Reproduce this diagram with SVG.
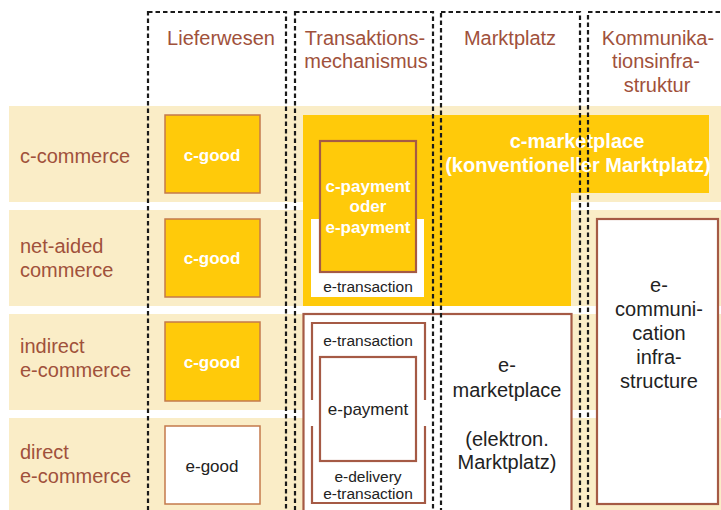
<svg xmlns="http://www.w3.org/2000/svg" width="721" height="510" viewBox="0 0 721 510">
<style>
text{font-family:"Liberation Sans",Arial,sans-serif}
.band{fill:#FAEDC7}
.hdr{fill:#A0513B;font-size:20px;text-anchor:middle}
.row{fill:#A0513B;font-size:20px}
.yel{fill:#FFCA0A}
.good{stroke:#C47A4C;stroke-width:1.5}
.wb{fill:#fff;font-weight:bold;text-anchor:middle}
.dk{fill:#222;text-anchor:middle}
.br{fill:none;stroke:#A55A45;stroke-width:2.2}
.brw{fill:#fff;stroke:#A55A45;stroke-width:2.2}
.col{fill:none;stroke:#1a1a1a;stroke-width:2.2;stroke-dasharray:4.5 3}
</style>
<rect width="721" height="510" fill="#fff"/>
<g id="rows">
<g id="row-c-commerce"><rect class="band" x="9" y="106" width="712" height="96"/><text class="row" x="20" y="163">c-commerce</text></g>
<g id="row-net-aided"><rect class="band" x="9" y="210" width="712" height="96"/><text class="row" x="20" y="253">net-aided</text><text class="row" x="20" y="277">commerce</text></g>
<g id="row-indirect"><rect class="band" x="9" y="314" width="712" height="96"/><text class="row" x="20" y="353">indirect</text><text class="row" x="20" y="377">e-commerce</text></g>
<g id="row-direct"><rect class="band" x="9" y="418" width="712" height="92"/><text class="row" x="20" y="459">direct</text><text class="row" x="20" y="483">e-commerce</text></g>
</g>
<g id="c-marketplace">
<path class="yel" d="M303,115 H709 V193 H571 V306 H303 Z"/>
<text class="wb" x="577" y="148" font-size="20">c-marketplace</text>
<text class="wb" x="578" y="172" font-size="20">(konventioneller Marktplatz)</text>
</g>
<g id="e-transaction-upper">
<rect x="311" y="219" width="113" height="78" fill="#fff"/>
<text class="dk" x="368" y="292" font-size="15.5">e-transaction</text>
</g>
<g id="payment-upper">
<rect class="yel" x="320" y="141" width="96" height="131"/>
<rect class="br" x="320" y="141" width="96" height="131"/>
<text class="wb" x="368" y="192" font-size="17">c-payment</text>
<text class="wb" x="368" y="212" font-size="17">oder</text>
<text class="wb" x="368" y="233" font-size="17">e-payment</text>
</g>
<g id="c-good-1"><rect class="yel good" x="165" y="115" width="95" height="78"/><text class="wb" x="212" y="161" font-size="17">c-good</text></g>
<g id="c-good-2"><rect class="yel good" x="165" y="219" width="95" height="78"/><text class="wb" x="212" y="264" font-size="17">c-good</text></g>
<g id="c-good-3"><rect class="yel good" x="165" y="322" width="95" height="79"/><text class="wb" x="212" y="368" font-size="17">c-good</text></g>
<g id="e-good"><rect class="good" fill="#fff" x="165" y="426" width="95" height="78"/><text class="dk" x="212" y="472" font-size="17">e-good</text></g>
<g id="e-marketplace">
<rect class="brw" x="303.5" y="314" width="268" height="210"/>
<text class="dk" x="507" y="372" font-size="20">e-</text>
<text class="dk" x="507" y="397" font-size="20">marketplace</text>
<text class="dk" x="507" y="446" font-size="20">(elektron.</text>
<text class="dk" x="507" y="469" font-size="20">Marktplatz)</text>
</g>
<g id="e-transaction-lower">
<path class="br" d="M312,400 V323 H425 V400"/>
<text class="dk" x="368" y="346" font-size="15.5">e-transaction</text>
</g>
<g id="e-delivery">
<path class="br" d="M312,426 V503 H425 V426"/>
<text class="dk" x="368" y="482" font-size="15.5">e-delivery</text>
<text class="dk" x="368" y="499" font-size="15.5">e-transaction</text>
</g>
<g id="e-payment-lower">
<rect class="brw" x="320" y="357" width="96" height="104"/>
<text class="dk" x="368" y="415" font-size="17">e-payment</text>
</g>
<g id="e-communication">
<rect class="brw" x="597" y="219" width="121" height="285"/>
<text class="dk" x="659" y="292" font-size="20">e-</text>
<text class="dk" x="659" y="316" font-size="20">communi-</text>
<text class="dk" x="659" y="340" font-size="20">cation</text>
<text class="dk" x="659" y="364" font-size="20">infra-</text>
<text class="dk" x="659" y="388" font-size="20">structure</text>
</g>
<g id="connectors"></g>
<g id="col-lieferwesen"><rect class="col" x="148" y="12" width="138" height="520"/><text class="hdr" x="221" y="45">Lieferwesen</text></g>
<g id="col-transaktion"><rect class="col" x="295" y="12" width="138" height="520"/><text class="hdr" x="365" y="45">Transaktions-</text><text class="hdr" x="366" y="68">mechanismus</text></g>
<g id="col-marktplatz"><rect class="col" x="441" y="12" width="139" height="520"/><text class="hdr" x="510" y="45">Marktplatz</text></g>
<g id="col-kommunikation"><rect class="col" x="588" y="12" width="140" height="520"/><text class="hdr" x="658" y="45">Kommunika-</text><text class="hdr" x="656" y="68">tionsinfra-</text><text class="hdr" x="657" y="92">struktur</text></g>
</svg>
